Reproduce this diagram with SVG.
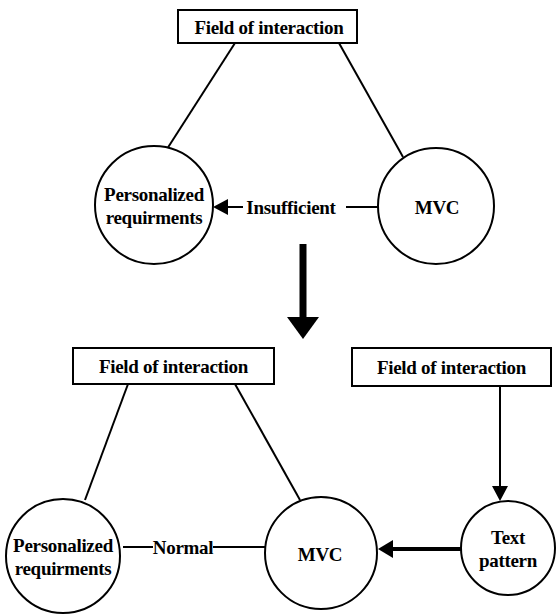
<svg xmlns="http://www.w3.org/2000/svg" width="559" height="614" viewBox="0 0 559 614">
  <style>
    .box { fill: #fff; stroke: #000; stroke-width: 2; }
    .node { fill: #fff; stroke: #000; stroke-width: 2; }
    .edge { stroke: #000; stroke-width: 2; fill: none; }
    .thick { stroke: #000; stroke-width: 4; fill: none; }
    .lbl { font-family: 'Liberation Serif', 'DejaVu Serif', serif; font-weight: bold; font-size: 19px; fill: #000; text-anchor: middle; dominant-baseline: central; letter-spacing: -0.3px; }
  </style>

  <!-- connectors -->
  <g id="connectors">
    <line class="edge" x1="235" y1="43" x2="167" y2="149"/>
    <line class="edge" x1="339" y1="43" x2="403" y2="157"/>
    <line class="edge" x1="378" y1="207" x2="346" y2="207"/>
    <line class="edge" x1="243" y1="207" x2="228" y2="207"/>
    <path d="M213,207 L228,199 L228,215 Z" fill="#000"/>

    <line x1="303" y1="244" x2="303" y2="319" stroke="#000" stroke-width="7"/>
    <path d="M287,317 L319,317 L303,339 Z" fill="#000"/>

    <line class="edge" x1="128" y1="384" x2="85" y2="500"/>
    <line class="edge" x1="235" y1="384" x2="300" y2="500"/>
    <line class="edge" x1="500" y1="386" x2="500" y2="486"/>
    <path d="M492,486 L508,486 L500,501 Z" fill="#000"/>
    <line class="edge" x1="123" y1="547" x2="153" y2="547"/>
    <line class="edge" x1="213" y1="547" x2="265" y2="547"/>
    <line class="thick" x1="461" y1="549" x2="392" y2="549"/>
    <path d="M378,549 L393,540 L393,558 Z" fill="#000"/>
  </g>

  <!-- top: field of interaction -->
  <g id="field-top">
    <rect class="box" x="178" y="10" width="179" height="33"/>
    <text class="lbl" x="269" y="27">Field of interaction</text>
  </g>
  <g id="req-top">
    <circle class="node" cx="154" cy="205" r="59"/>
    <text class="lbl" x="154" y="194">Personalized</text>
    <text class="lbl" x="154" y="217">requirments</text>
  </g>
  <g id="mvc-top">
    <circle class="node" cx="436" cy="206" r="58"/>
    <text class="lbl" x="437" y="207">MVC</text>
  </g>
  <text class="lbl" x="291" y="207">Insufficient</text>

  <!-- bottom -->
  <g id="field-bottom-left">
    <rect class="box" x="73" y="348" width="201" height="36"/>
    <text class="lbl" x="173.5" y="366">Field of interaction</text>
  </g>
  <g id="field-bottom-right">
    <rect class="box" x="352" y="348" width="199" height="38"/>
    <text class="lbl" x="451.5" y="367">Field of interaction</text>
  </g>
  <g id="req-bottom">
    <circle class="node" cx="63" cy="556" r="57"/>
    <text class="lbl" x="63" y="545">Personalized</text>
    <text class="lbl" x="63" y="568">requirments</text>
  </g>
  <g id="mvc-bottom">
    <circle class="node" cx="321" cy="553" r="56"/>
    <text class="lbl" x="320" y="554">MVC</text>
  </g>
  <g id="text-pattern">
    <circle class="node" cx="508" cy="548" r="47"/>
    <text class="lbl" x="508" y="537">Text</text>
    <text class="lbl" x="508" y="560">pattern</text>
  </g>
  <text class="lbl" x="183" y="547">Normal</text>
</svg>
